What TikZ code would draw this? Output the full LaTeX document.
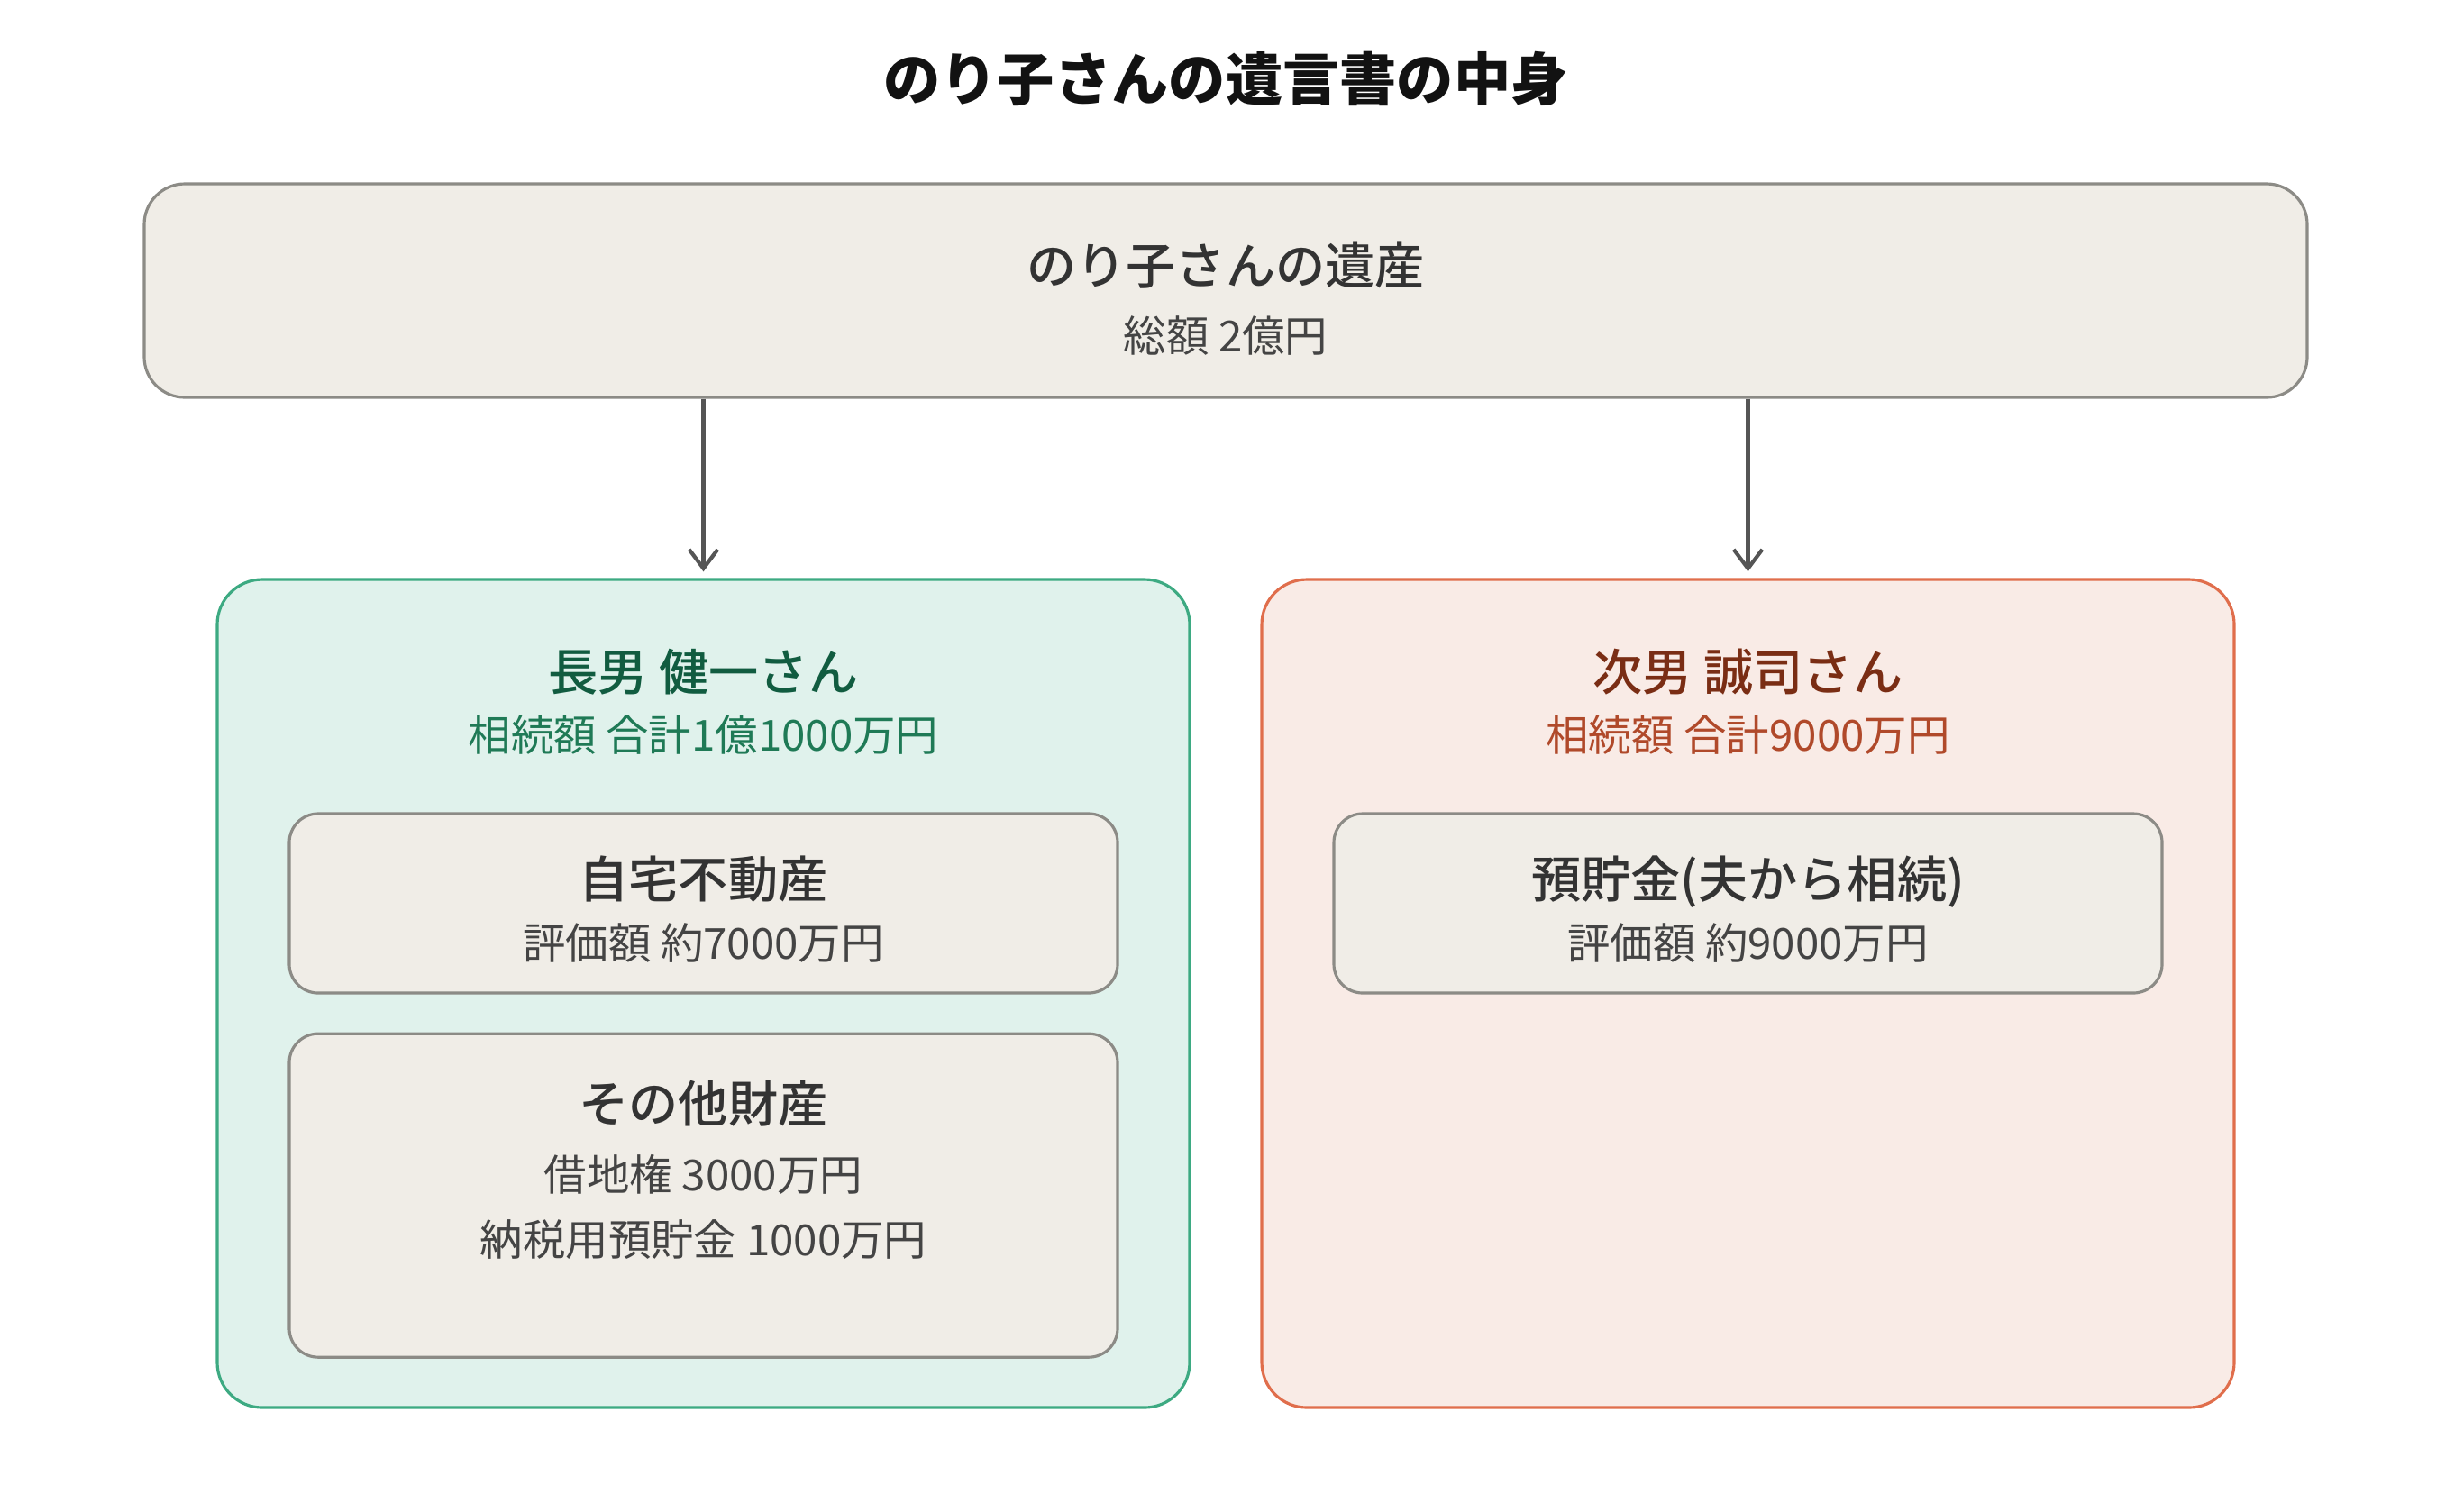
\documentclass[tikz,border=0pt]{standalone}
\usepackage{fontspec}
\setmainfont{Noto Sans CJK JP}
\newfontfamily\mediumcjk{Noto Sans CJK JP Medium}
\usepackage{xcolor}
\usepackage{tikz}
\usetikzlibrary{arrows.meta, positioning}

\definecolor{estatefill}{HTML}{F0EDE7}
\definecolor{estatedraw}{HTML}{8C8B86}
\definecolor{kenfill}{HTML}{E0F2EC}
\definecolor{kendraw}{HTML}{3DAA82}
\definecolor{kenname}{HTML}{115C40}
\definecolor{kensub}{HTML}{1F7A56}
\definecolor{seifill}{HTML}{F9EBE6}
\definecolor{seidraw}{HTML}{E06E4C}
\definecolor{seiname}{HTML}{7A2D14}
\definecolor{seisub}{HTML}{B0492A}
\definecolor{textgray}{HTML}{444444}
\definecolor{linkgray}{HTML}{555555}

\newcommand\titlefont{\fontsize{18}{22}\selectfont\bfseries}
\newcommand\namefont{\mediumcjk\fontsize{15.7}{20.5}\selectfont}
\newcommand\amountfont{\fontsize{13.5}{20.5}\selectfont}

\begin{document}
\begin{tikzpicture}[
    node distance=1cm,
    estate/.style={rectangle, draw=estatedraw, fill=estatefill, rounded corners=0.45cm, line width=0.9pt, minimum width=24cm, minimum height=2.37cm},
    heir/.style={rectangle, rounded corners=0.5cm, line width=0.9pt, minimum width=10.79cm, minimum height=9.19cm},
    asset/.style={rectangle, draw=estatedraw, fill=estatefill, rounded corners=0.32cm, line width=0.9pt, minimum width=9.19cm},
    boxtext/.style={align=center, inner sep=0pt, font=\amountfont, text=textgray},
    arrow/.style={-{Straight Barb[length=6pt, width=9pt]}, line width=1.2pt, draw=linkgray, shorten >=2pt}
]
    \useasboundingbox (0,0) rectangle (27.34,-16.47);

    % Title and estate
    \node[font=\titlefont, text=black!93] (heading) at (13.60,-0.87) {のり子さんの遺言書の中身};
    \node[estate] (estate) at (13.60,-3.225) {};
    \node[boxtext, below=0.66cm of estate.north] (estatetext) {{\namefont\color{black!80} のり子さんの遺産}\\[0.9pt]総額 2億円};

    % Heirs
    \node[heir, draw=kendraw, fill=kenfill] (kenichi) at (7.805,-11.025) {};
    \node[heir, draw=seidraw, fill=seifill] (seiji) at (19.395,-11.025) {};

    \node[boxtext, text=kensub, below=0.78cm of kenichi.north] (kenichiname) {{\namefont\color{kenname} 長男 健一さん}\\[-1.5pt]相続額 合計1億1000万円};
    \node[boxtext, text=seisub, below=0.78cm of seiji.north] (seijiname) {{\namefont\color{seiname} 次男 誠司さん}\\[-1.5pt]相続額 合計9000万円};

    % Assets
    \node[asset, minimum height=1.99cm, below=2.6cm of kenichi.north] (home) {};
    \node[asset, minimum height=3.59cm, below=0.42cm of home] (others) {};
    \node[asset, minimum height=1.99cm, below=2.6cm of seiji.north] (savings) {};

    \node[boxtext, below=0.475cm of home.north] (hometext) {{\namefont\color{black!80} 自宅不動産}\\[-1.1pt]評価額 約7000万円};
    \node[boxtext, below=0.53cm of others.north] (otherstext) {{\namefont\color{black!80} その他財産}\\[0.9pt]借地権 3000万円\\納税用預貯金 1000万円};
    \node[boxtext, below=0.475cm of savings.north] (savingstext) {{\namefont\color{black!80} 預貯金(夫から相続)}\\[-1.1pt]評価額 約9000万円};

    % Arrows
    \draw[arrow] (estate.south -| kenichi.north) -- (kenichi.north);
    \draw[arrow] (estate.south -| seiji.north) -- (seiji.north);
\end{tikzpicture}
\end{document}
